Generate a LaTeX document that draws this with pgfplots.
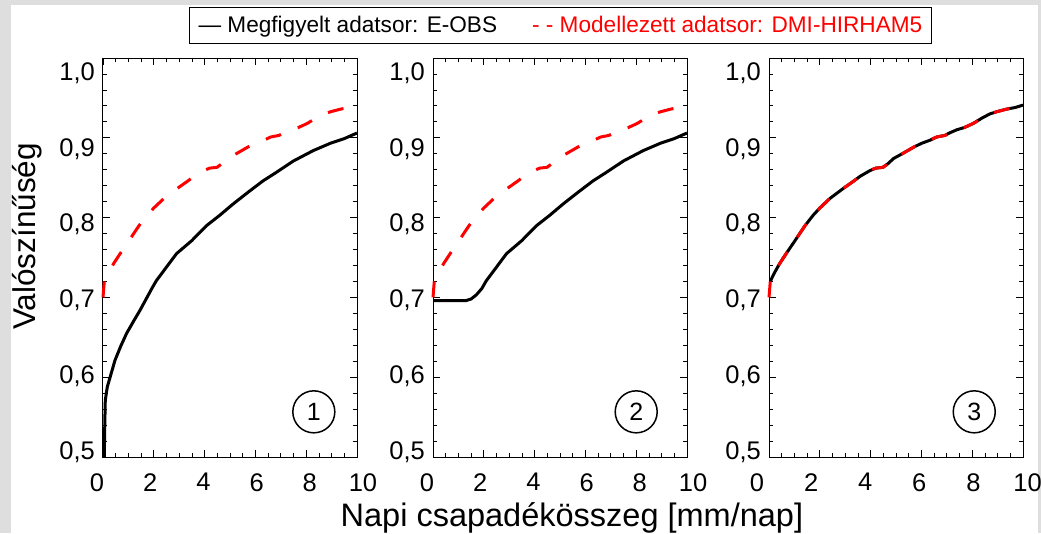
\documentclass[border=0pt]{standalone}
\usepackage{fontspec}
\setmainfont{Liberation Sans}
\usepackage{pgfplots}
\usepackage{pgfplotstable}
\pgfplotsset{compat=1.18}
\definecolor{bggray}{RGB}{222,222,222}

\pgfplotstableread{
x y
0.00 0.700
0.05 0.720
0.20 0.730
0.43 0.743
0.70 0.756
1.02 0.771
1.42 0.790
1.74 0.803
2.00 0.812
2.40 0.824
2.90 0.836
3.30 0.845
3.60 0.852
3.98 0.859
4.20 0.862
4.49 0.863
4.70 0.868
4.90 0.874
5.30 0.881
5.68 0.888
6.00 0.893
6.34 0.897
6.60 0.901
6.93 0.903
7.10 0.906
7.39 0.910
7.70 0.913
8.04 0.918
8.40 0.925
8.70 0.930
9.00 0.933
9.36 0.936
9.70 0.938
10.00 0.941
}\model

\pgfplotstableread{
x y
0.05 0.720
0.20 0.730
0.43 0.743
0.70 0.756
1.02 0.771
1.42 0.790
1.74 0.803
2.00 0.812
2.40 0.824
2.90 0.836
3.30 0.845
3.60 0.852
3.98 0.859
4.20 0.862
4.49 0.863
4.70 0.868
4.90 0.874
5.30 0.881
5.68 0.888
6.00 0.893
6.34 0.897
6.60 0.901
6.93 0.903
7.10 0.906
7.39 0.910
7.70 0.913
8.04 0.918
8.40 0.925
8.70 0.930
9.00 0.933
9.36 0.936
9.70 0.938
10.00 0.941
}\obsC

\pgfplotstableread{
x y
0.05 0.500
0.07 0.540
0.09 0.571
0.17 0.588
0.28 0.600
0.47 0.621
0.70 0.639
0.93 0.655
1.20 0.670
1.46 0.684
1.92 0.711
2.10 0.721
2.50 0.738
2.90 0.755
3.49 0.771
4.08 0.790
4.60 0.803
5.12 0.817
5.72 0.832
6.30 0.846
6.84 0.857
7.50 0.871
8.28 0.884
8.94 0.893
9.50 0.899
10.00 0.906
}\obsA

\pgfplotstableread{
x y
0.00 0.696
1.30 0.696
1.50 0.698
1.70 0.703
1.92 0.711
2.10 0.721
2.50 0.738
2.90 0.755
3.49 0.771
4.08 0.790
4.60 0.803
5.12 0.817
5.72 0.832
6.30 0.846
6.84 0.857
7.50 0.871
8.28 0.884
8.94 0.893
9.50 0.899
10.00 0.906
}\obsB

\tikzset{
  num/.style={draw, circle, line width=1.5pt, minimum size=42pt, inner sep=0pt, font=\fontsize{25}{29}\selectfont},
}
\pgfplotsset{
  panel/.style={
    width=254pt, height=399pt, scale only axis, anchor=south west,
    xmin=0, xmax=10, ymin=0.5, ymax=1.0,
    xtick={0,2,4,6,8,10}, ytick={0.5,0.6,0.7,0.8,0.9,1.0},
    minor x tick num=3, minor y tick num=4,
    major tick length=7pt, minor tick length=4pt,
    tick align=inside,
    axis line style={line width=1pt, black},
    every tick/.style={black, line width=0.8pt},
    tick label style={font=\fontsize{25.5}{30}\selectfont},
    /pgf/number format/assume math mode=true,
    yticklabel style={/pgf/number format/use comma, /pgf/number format/fixed,
      /pgf/number format/fixed zerofill, /pgf/number format/precision=1},
    yticklabel style={anchor=east, inner sep=0pt, xshift=-8pt, yshift={(5-4*\ticknum)*1pt}},
    xticklabel style={anchor=north, inner sep=0pt, yshift=-16pt, xshift={(-6+2.4*\ticknum)*1pt}},
    clip=false,
  },
  obs/.style={black, line width=3pt, line join=round},
  mod/.style={red, line width=3pt, dash pattern=on 16pt off 18pt, line join=round},
}

\begin{document}
\begin{tikzpicture}[x=1pt,y=1pt]
\fill[bggray] (0,0) rectangle (1041,533);
\fill[white] (11,0) rectangle (1038,528);
\useasboundingbox (0,0) rectangle (1041,533);

\begin{axis}[panel, at={(103pt,76pt)},
  ylabel={Valószínűség},
  ylabel style={at={(axis description cs:-0.2677,0.5526)}, anchor=base, rotate=0, font=\fontsize{31.5}{36}\selectfont},
  legend columns=2,
  legend style={at={(1.801,1.082)}, anchor=center, draw=black, line width=1pt,
    font=\fontsize{22.6}{26}\selectfont, inner xsep=7pt, inner ysep=7pt,
    /tikz/every even column/.append style={column sep=31pt}},
  legend cell align=left,
]
\addplot[obs, legend image code/.code={}] table {\obsA};
\addlegendentry{— Megfigyelt adatsor: E-OBS}
\addplot[mod, legend image code/.code={}] table {\model};
\addlegendentry{\textcolor{red}{- - Modellezett adatsor: DMI-HIRHAM5}}
\node[num] at (axis cs:8.3,0.5566) {1};
\end{axis}

\begin{axis}[panel, at={(433pt,76pt)},
  xlabel={Napi csapadékösszeg [mm/nap]},
  xlabel style={at={(axis description cs:0.547,-0.1754)}, anchor=base, font=\fontsize{32.5}{37}\selectfont},
]
\addplot[obs] table {\obsB};
\addplot[mod] table {\model};
\node[num] at (axis cs:8.0,0.5566) {2};
\end{axis}

\begin{axis}[panel, at={(769pt,76pt)},
  xticklabel style={xshift={(-6+0.9*\ticknum)*1pt}},
]
\addplot[obs] table {\obsC};
\addplot[mod] table {\model};
\node[num] at (axis cs:8.08,0.5566) {3};
\end{axis}
\end{tikzpicture}
\end{document}
